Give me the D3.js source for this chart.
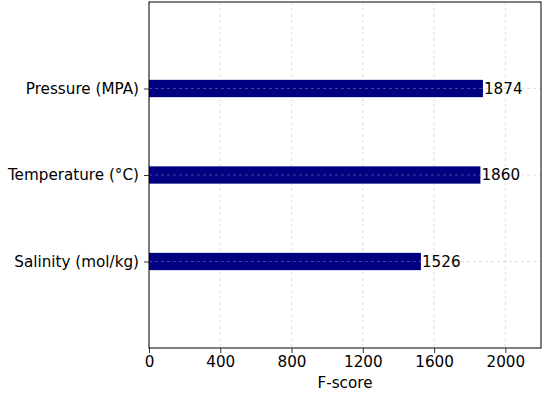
<!DOCTYPE html>
<html>
<head>
<meta charset="utf-8">
<script src="https://cdn.jsdelivr.net/npm/d3@7"></script>
<style>
  body { margin: 0; background: #fff; }
  text { font-family: "DejaVu Sans", sans-serif; }
</style>
</head>
<body>
<div id="chart"></div>
<script>
const features = ["Salinity (mol/kg)", "Temperature (°C)", "Pressure (MPA)"];
const scores = [1526, 1860, 1874];
const xTicks = [0, 400, 800, 1200, 1600, 2000];

const margin = { LEFT: 149, RIGHT: 9, TOP: 2, BOTTOM: 52 };
const width = 550 - margin.LEFT - margin.RIGHT;
const height = 400 - margin.TOP - margin.BOTTOM;
const fontSize = "15.2px";

const svg = d3.select("#chart").append("svg")
  .attr("width", 550)
  .attr("height", 400);

const g = svg.append("g")
  .attr("transform", `translate(${margin.LEFT}, ${margin.TOP})`);

// Scales
const x = d3.scaleLinear()
  .domain([0, 2200])
  .range([0, width]);
const y = d3.scaleLinear()
  .domain([-1, features.length])
  .range([height, 0]);

// Grid
g.append("g")
  .selectAll("line")
  .data(xTicks)
  .join("line")
  .attr("x1", d => x(d)).attr("x2", d => x(d))
  .attr("y1", 0).attr("y2", height)
  .attr("stroke", "#b0b0b0")
  .attr("stroke-opacity", 0.5)
  .attr("stroke-width", 0.8)
  .attr("stroke-dasharray", "3,3");

// Bars
const barH = y(0) - y(0.2);
g.selectAll("rect.bar")
  .data(scores)
  .join("rect")
  .attr("class", "bar")
  .attr("x", x(0))
  .attr("y", (d, i) => y(i) - barH / 2)
  .attr("width", d => x(d) - x(0))
  .attr("height", barH)
  .attr("fill", "#000080");

// horizontal grid lines sit over the bars
g.append("g")
  .selectAll("line")
  .data(features)
  .join("line")
  .attr("x1", 0).attr("x2", width)
  .attr("y1", (d, i) => y(i)).attr("y2", (d, i) => y(i))
  .attr("stroke", "#b0b0b0")
  .attr("stroke-opacity", 0.5)
  .attr("stroke-width", 0.8)
  .attr("stroke-dasharray", "3,3");

// Value labels
g.selectAll("text.value")
  .data(scores)
  .join("text")
  .attr("class", "value")
  .attr("x", d => x(d) + 1)
  .attr("y", (d, i) => y(i))
  .attr("dy", "0.35em")
  .attr("font-size", fontSize)
  .attr("fill", "#000")
  .text(d => d);

// X Axis
const xAxis = g.append("g")
  .attr("transform", `translate(0, ${height})`)
  .call(d3.axisBottom(x).tickValues(xTicks).tickSize(5).tickPadding(3).tickFormat(d3.format("d")));
xAxis.select(".domain").remove();
xAxis.selectAll("text").attr("font-size", fontSize).attr("font-family", "DejaVu Sans").attr("fill", "#000");
xAxis.selectAll("line").attr("stroke", "#000").attr("stroke-width", 0.8);

// Y Axis
const yAxis = g.append("g")
  .call(d3.axisLeft(y).tickValues(d3.range(features.length)).tickSize(5).tickPadding(5).tickFormat(i => features[i]));
yAxis.select(".domain").remove();
yAxis.selectAll("text").attr("font-size", fontSize).attr("font-family", "DejaVu Sans").attr("fill", "#000");
yAxis.selectAll("line").attr("stroke", "#000").attr("stroke-width", 0.8);

// Frame
g.append("rect")
  .attr("width", width)
  .attr("height", height)
  .attr("fill", "none")
  .attr("stroke", "#000")
  .attr("stroke-width", 1);

// Axis label
g.append("text")
  .attr("x", width / 2)
  .attr("y", height + 40)
  .attr("text-anchor", "middle")
  .attr("font-size", fontSize)
  .attr("fill", "#000")
  .text("F-score");
</script>
</body>
</html>
